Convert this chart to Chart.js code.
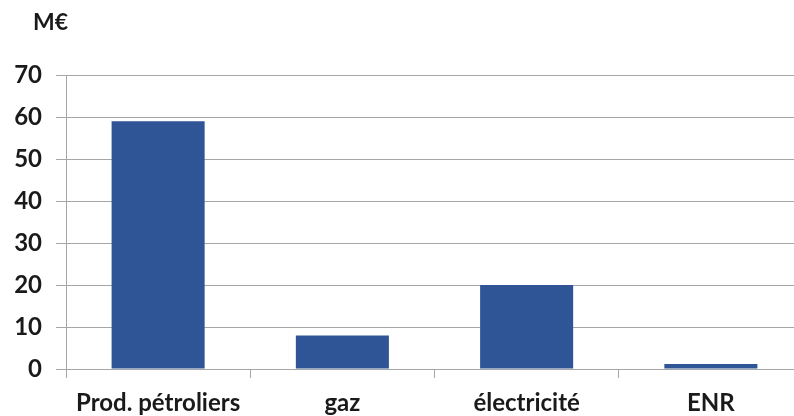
<!DOCTYPE html>
<html>
<head>
<meta charset="utf-8">
<script src="https://cdn.jsdelivr.net/npm/chart.js@4/dist/chart.umd.min.js"></script>
<style>
  html, body { margin: 0; padding: 0; background: #fff; overflow: hidden; }
  #wrap { width: 794px; height: 416px; overflow: hidden; }
  canvas { display: block; }
</style>
</head>
<body>
<div id="wrap"><canvas id="c" width="812" height="416"></canvas></div>
<script>
// Dépenses par énergie, en millions d'euros
const categories = ['Prod. pétroliers', 'gaz', 'électricité', 'ENR'];
const values = [59, 8, 20, 1.2];
const unitLabel = 'M€';
const yTicks = [0, 10, 20, 30, 40, 50, 60, 70];

const FONT = 'Lato, "Open Sans", sans-serif';
const TEXT = '#1a1a1a';
const GRID = '#a6a6a6';

// Unit label drawn above the value axis
const unitPlugin = {
  id: 'unitLabel',
  afterDraw(chart) {
    const { ctx, chartArea } = chart;
    ctx.save();
    ctx.font = `bold 23px ${FONT}`;
    ctx.fillStyle = TEXT;
    ctx.textAlign = 'left';
    ctx.textBaseline = 'middle';
    ctx.fillText(unitLabel, chartArea.left - 33, 23);
    ctx.restore();
  }
};

new Chart(document.getElementById('c'), {
  type: 'bar',
  data: {
    labels: categories,
    datasets: [{
      data: values,
      backgroundColor: '#2F5597',
      borderWidth: 0,
      categoryPercentage: 1,
      barPercentage: 0.505
    }]
  },
  options: {
    responsive: false,
    animation: false,
    devicePixelRatio: 1,
    layout: { padding: { top: 75, right: 9, left: 0, bottom: 0 } },
    plugins: { legend: { display: false }, tooltip: { enabled: false } },
    scales: {
      x: {
        offset: true,
        grid: {
          offset: true,
          drawOnChartArea: false,
          drawTicks: true,
          tickLength: 9,
          color: GRID
        },
        border: { display: true, color: GRID, width: 1 },
        ticks: {
          color: TEXT,
          font: { family: FONT, size: 24, weight: 'bold' },
          padding: 11,
          maxRotation: 0,
          autoSkip: false
        },
        afterFit(s) { s.height = 47; }
      },
      y: {
        min: 0,
        max: 70,
        afterBuildTicks(s) { s.ticks = yTicks.map(v => ({ value: v })); },
        grid: {
          color: GRID,
          drawTicks: true,
          tickLength: 10
        },
        border: { display: true, color: GRID, width: 1 },
        ticks: {
          color: TEXT,
          font: { family: FONT, size: 24, weight: 'bold' },
          padding: 14
        },
        afterFit(s) { s.width = 66; }
      }
    }
  },
  plugins: [unitPlugin]
});
</script>
</body>
</html>
